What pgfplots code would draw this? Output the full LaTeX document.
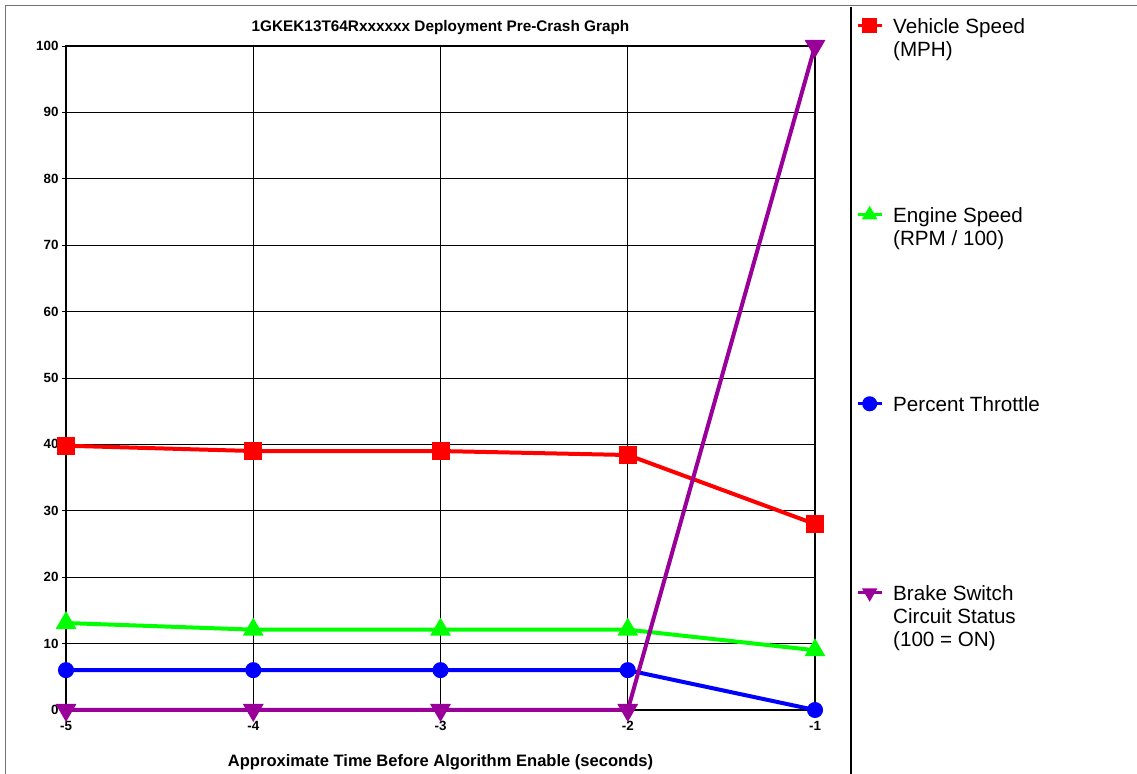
\documentclass[border=0pt]{standalone}
\usepackage{pgfplots}
\pgfplotsset{compat=1.18}
\usepackage{fontspec}
\setmainfont{Liberation Sans}
\definecolor{vred}{RGB}{255,0,0}
\definecolor{egreen}{RGB}{0,255,0}
\definecolor{tblue}{RGB}{0,0,255}
\definecolor{bpurple}{RGB}{153,0,153}
\begin{document}
\begin{tikzpicture}[x=1bp,y=1bp]
\path[use as bounding box] (0,0) rectangle (1137,774);
\draw[black!55, line width=1bp] (5,0) -- (5,768) -- (1137,768);
\draw[black, line width=2bp] (851,0) -- (851,767);
\begin{axis}[
 scale only axis, width=749bp, height=664bp,
 at={(66bp,64bp)}, anchor=south west,
 xmin=-5, xmax=-1, ymin=0, ymax=100,
 xtick={-5,-4,-3,-2,-1}, xticklabels={-5,-4,-3,-2,-1},
 ytick={0,10,...,100},
 ytick pos=left, xtick pos=bottom,
 clip=false,
 grid=major, major grid style={black, line width=0.8bp},
 axis line style={black, line width=1.2bp},
 tick align=outside, major tick length=4bp, tick style={black, line width=0.8bp},
 ticklabel style={font=\fontsize{13.4}{15}\selectfont\bfseries},
 xticklabel style={yshift=-4bp},
 /pgf/number format/assume math mode=true,
 title={1GKEK13T64Rxxxxxx Deployment Pre-Crash Graph},
 title style={font=\fontsize{15.4}{17}\selectfont\bfseries, at={(axis description cs:0.5,1)}, anchor=base, yshift=9bp},
 xlabel={Approximate Time Before Algorithm Enable (seconds)},
 xlabel style={font=\fontsize{16.6}{18}\selectfont\bfseries, at={(axis description cs:0.5,0)}, anchor=base, yshift=-57bp},
 legend cell align=left,
 legend style={at={(axis description cs:1.0547,1.0428)}, anchor=north west, draw=none, fill=none,
   inner sep=0pt, row sep=0pt, font=\fontsize{20.7}{23}\selectfont,
   nodes={inner sep=0pt},
   /tikz/every odd column/.append style={column sep=10bp},
   /tikz/every even column/.append style={nodes={anchor=base west, text height=16bp, text depth=173bp}}},
 legend image code/.code={\draw[mark repeat=2, mark phase=2, line width=3bp, #1, mark size=6bp] plot coordinates {(0bp,8bp)(12bp,8bp)(24bp,8bp)};},
]
\addplot[vred, line width=4bp, mark=square*, mark size=7bp, mark options={solid}] coordinates {
 (-5,39.8) (-4,39.0) (-3,39.0) (-2,38.4) (-1,28.0)};
\addlegendentry{\begin{tabular}[t]{@{}l@{}}Vehicle Speed\\(MPH)\end{tabular}}
\addplot[egreen, line width=4bp, mark=triangle*, mark size=8bp, mark options={solid}] coordinates {
 (-5,13.1) (-4,12.1) (-3,12.1) (-2,12.1) (-1,9.0)};
\addlegendentry{\begin{tabular}[t]{@{}l@{}}Engine Speed\\(RPM / 100)\end{tabular}}
\addplot[tblue, line width=4bp, mark=*, mark size=6bp, mark options={solid}] coordinates {
 (-5,6) (-4,6) (-3,6) (-2,6) (-1,0)};
\addlegendentry{\begin{tabular}[t]{@{}l@{}}Percent Throttle\end{tabular}}
\addplot[bpurple, line width=4bp, mark=triangle*, mark size=8bp, mark options={solid, rotate=180}] coordinates {
 (-5,0) (-4,0) (-3,0) (-2,0) (-1,100)};
\addlegendentry{\begin{tabular}[t]{@{}l@{}}Brake Switch\\Circuit Status\\(100 = ON)\end{tabular}}
\end{axis}
\end{tikzpicture}
\end{document}
